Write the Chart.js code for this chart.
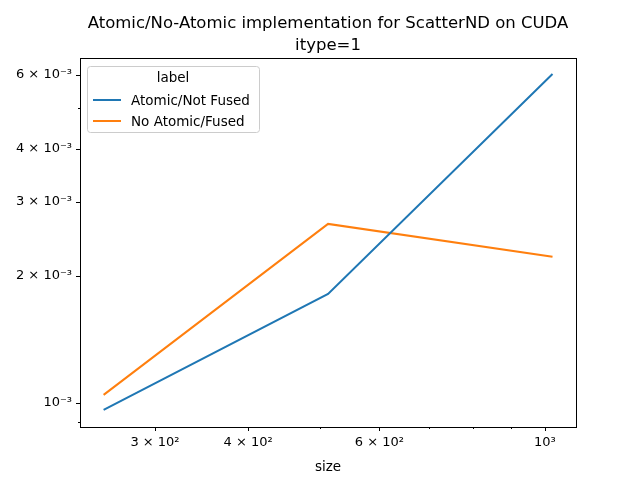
<!DOCTYPE html>
<html><head><meta charset="utf-8">
<script src="https://cdn.jsdelivr.net/npm/chart.js@4/dist/chart.umd.min.js"></script>
<style>html,body{margin:0;padding:0;background:#fff}#c{width:640px;height:480px}</style>
</head><body><div id="c"><canvas id="cv" width="640" height="480"></canvas></div>
<script>
const sizes=[256,512,1024];
const atomicNotFused=[0.963e-3,1.813e-3,6.02e-3];
const noAtomicFused=[1.045e-3,2.657e-3,2.22e-3];
const seriesNames=['Atomic/Not Fused','No Atomic/Fused'];
const xTicks=[300,400,600,1000];
const xMinor=[500,700,800,900];
const yTicks=[1e-3,2e-3,3e-3,4e-3,6e-3];
const yMinor=[5e-3];
const sup={'0':'⁰','1':'¹','2':'²','3':'³','4':'⁴','5':'⁵','6':'⁶','7':'⁷','8':'⁸','9':'⁹','-':'⁻'};
function fmt(v){const e=Math.floor(Math.log10(v)+1e-9);const m=Math.round(v/Math.pow(10,e));const es=String(e).split('').map(c=>sup[c]).join('');return (m===1?'':m+' × ')+'10'+es;}
const FONT='DejaVu Sans';
Chart.defaults.font.family=FONT;Chart.defaults.color='#000';
const overlay={id:'ov',afterDraw(ch){const c=ch.ctx;const a=ch.chartArea;c.save();
c.strokeStyle='#000';c.lineWidth=1;c.strokeRect(a.left+0.5,a.top+0.5,a.right-a.left,a.bottom-a.top);
c.fillStyle='#000';c.textAlign='center';c.textBaseline='alphabetic';c.font='16.5px '+FONT;
c.fillText('Atomic/No-Atomic implementation for ScatterND on CUDA',(a.left+a.right)/2,28);
c.fillText('itype=1',(a.left+a.right)/2,50);
const lx=a.left+7,ly=a.top+8,w=172,h=66;
c.fillStyle='rgba(255,255,255,0.8)';c.strokeStyle='#ccc';c.beginPath();c.roundRect(lx+0.5,ly+0.5,w,h,3);c.fill();c.stroke();
c.fillStyle='#000';c.font='13.5px '+FONT;c.textAlign='center';c.fillText('label',lx+w/2,ly+16);
c.textAlign='left';ch.data.datasets.forEach((d,i)=>{const yy=ly+34+i*21;c.strokeStyle=d.borderColor;c.lineWidth=2;c.beginPath();c.moveTo(lx+6,yy);c.lineTo(lx+34,yy);c.stroke();c.fillStyle='#000';c.fillText(d.label,lx+44,yy+5);});
c.restore();}};
new Chart(document.getElementById('cv'),{type:'line',
data:{datasets:[
{label:seriesNames[0],data:sizes.map((x,i)=>({x,y:atomicNotFused[i]})),borderColor:'#1f77b4',borderWidth:2,pointRadius:0,tension:0},
{label:seriesNames[1],data:sizes.map((x,i)=>({x,y:noAtomicFused[i]})),borderColor:'#ff7f0e',borderWidth:2,pointRadius:0,tension:0}]},
options:{responsive:false,animation:false,devicePixelRatio:1,
layout:{padding:{top:58,right:64,left:0,bottom:0}},
plugins:{legend:{display:false},title:{display:false},tooltip:{enabled:false}},
scales:{
x:{type:'logarithmic',min:238,max:1101,border:{display:false},
grid:{display:false,drawTicks:true,tickLength:4,color:'#000'},
afterBuildTicks(s){s.ticks=xTicks.concat(xMinor).map(v=>({value:v}));},
afterFit(s){s.height=53;},
ticks:{autoSkip:false,maxRotation:0,padding:4,font:{size:13},callback:(v)=>xTicks.includes(v)?fmt(v):''},
title:{display:true,text:'size',font:{size:13.5},padding:{top:2}}},
y:{type:'logarithmic',min:0.877e-3,max:6.57e-3,border:{display:false},
grid:{display:false,tickLength:4},
afterBuildTicks(s){s.ticks=yTicks.concat(yMinor).map(v=>({value:v}));},
afterFit(s){s.width=80;},
ticks:{autoSkip:false,padding:4,font:{size:13},callback:(v)=>yTicks.some(t=>Math.abs(t-v)<1e-9)?fmt(v):''}}}},
plugins:[overlay,{id:'tk',afterDraw(ch){const c=ch.ctx,a=ch.chartArea,xs=ch.scales.x,ys=ch.scales.y;c.save();c.strokeStyle='#000';c.lineWidth=1;c.beginPath();
xTicks.forEach(v=>{const p=Math.round(xs.getPixelForValue(v))+0.5;c.moveTo(p,a.bottom);c.lineTo(p,a.bottom+4);});
xMinor.forEach(v=>{const p=Math.round(xs.getPixelForValue(v))+0.5;c.moveTo(p,a.bottom);c.lineTo(p,a.bottom+2);});
yTicks.forEach(v=>{const p=Math.round(ys.getPixelForValue(v))+0.5;c.moveTo(a.left,p);c.lineTo(a.left-4,p);});
yMinor.concat([0.9e-3]).forEach(v=>{const p=Math.round(ys.getPixelForValue(v))+0.5;c.moveTo(a.left,p);c.lineTo(a.left-2,p);});
c.stroke();c.restore();}}]});
</script></body></html>
